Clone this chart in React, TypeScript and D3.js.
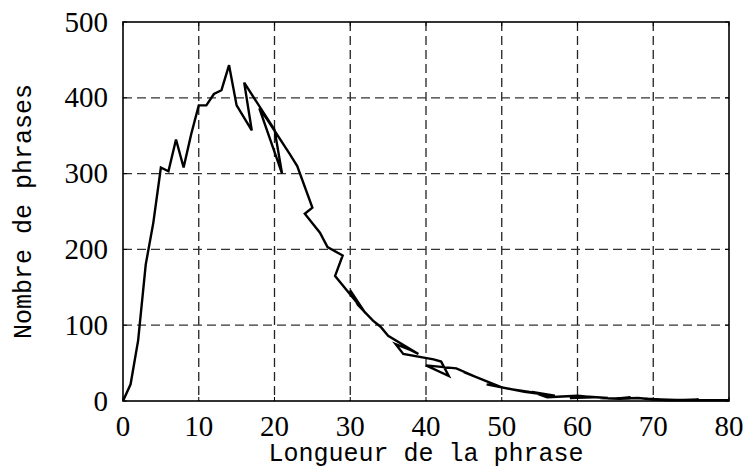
import React from "react";
import * as d3 from "d3";

// Sentence length (in plotted order, as in the source) and number of sentences
const lengths = [0, 1, 2, 3, 4, 5, 6, 7, 8, 9, 10, 11, 12, 13, 14, 15, 17, 16, 20, 21, 18, 19, 22, 23, 25, 24, 26, 27, 29, 28, 32, 30, 31, 33, 34, 35, 39, 38, 36, 37, 41, 42, 43, 40, 44, 47, 45, 50, 49, 48, 52, 55, 51, 53, 57, 54, 56, 58, 60, 62, 59, 61, 64, 63, 66, 67, 65, 68, 70, 72, 69, 71, 74, 73, 76, 75, 78, 77, 80];
const counts = [0, 22, 80, 180, 235, 308, 303, 345, 308, 352, 390, 390, 405, 410, 443, 390, 357, 420, 358, 300, 386, 372, 326, 310, 255, 247, 222, 203, 192, 165, 116, 146, 127, 106, 98, 86, 62, 67, 75, 62, 55, 52, 33, 47, 43, 30, 38, 18, 20, 22, 14, 10, 16, 12, 7, 12, 5, 6, 7, 5, 4, 6, 4, 4, 3, 5, 3, 4, 2, 1, 3, 2, 1, 1, 2, 1, 1, 1, 1];

const xTicks = [0, 10, 20, 30, 40, 50, 60, 70, 80];
const yTicks = [0, 100, 200, 300, 400, 500];
const xLabel = "Longueur de la phrase";
const yLabel = "Nombre de phrases";

export default function App() {
  const W = 743, H = 468;
  const left = 123, right = 729, top = 22, bottom = 401;
  const x = d3.scaleLinear().domain([0, 80]).range([left, right]);
  const y = d3.scaleLinear().domain([0, 500]).range([bottom, top]);
  const pts: [number, number][] = lengths.map((l, i) => [l, counts[i]]);
  const line = d3.line<[number, number]>().x(d => x(d[0])).y(d => y(d[1]));
  const serif = "'Liberation Serif', 'Times New Roman', serif";
  const mono = "'Liberation Mono', 'DejaVu Sans Mono', monospace";
  return (
    <svg width={W} height={H} style={{ position: "absolute", left: 0, top: 0, background: "#fff" }}>
      <rect x={0} y={0} width={W} height={H} fill="#fff" />
      {/* grid */}
      {xTicks.slice(1, -1).map(t => (
        <line key={"gx" + t} x1={x(t)} x2={x(t)} y1={top} y2={bottom} stroke="#222" strokeWidth={1.3} strokeDasharray="9,5" />
      ))}
      {yTicks.slice(1, -1).map(t => (
        <line key={"gy" + t} x1={left} x2={right} y1={y(t)} y2={y(t)} stroke="#333" strokeWidth={1.3} strokeDasharray="9,5" />
      ))}
      {/* inner ticks */}
      {xTicks.map(t => (
        <g key={"tx" + t}>
          <line x1={x(t)} x2={x(t)} y1={bottom} y2={bottom - 4} stroke="#000" strokeWidth={1} />
          <line x1={x(t)} x2={x(t)} y1={top} y2={top + 4} stroke="#000" strokeWidth={1} />
        </g>
      ))}
      {yTicks.map(t => (
        <g key={"ty" + t}>
          <line x1={left} x2={left + 4} y1={y(t)} y2={y(t)} stroke="#000" strokeWidth={1} />
          <line x1={right} x2={right - 4} y1={y(t)} y2={y(t)} stroke="#000" strokeWidth={1} />
        </g>
      ))}
      {/* data line */}
      <path d={line(pts) || ""} fill="none" stroke="#000" strokeWidth={2.4} strokeLinejoin="miter" />
      {/* frame */}
      <rect x={left} y={top} width={right - left} height={bottom - top} fill="none" stroke="#000" strokeWidth={1.6} />
      {/* tick labels */}
      {xTicks.map(t => (
        <text key={"lx" + t} x={x(t)} y={436} textAnchor="middle" fontFamily={serif} fontSize={29} fill="#000">{t}</text>
      ))}
      {yTicks.map(t => (
        <text key={"ly" + t} x={108} y={y(t)} dy="0.33em" textAnchor="end" fontFamily={serif} fontSize={29} fill="#000">{t}</text>
      ))}
      {/* axis labels */}
      <text x={(left + right) / 2} y={461} textAnchor="middle" fontFamily={mono} fontSize={25} fill="#000">{xLabel}</text>
      <text transform={`translate(31, ${(top + bottom) / 2}) rotate(-90)`} textAnchor="middle" fontFamily={mono} fontSize={25} fill="#000">{yLabel}</text>
    </svg>
  );
}
